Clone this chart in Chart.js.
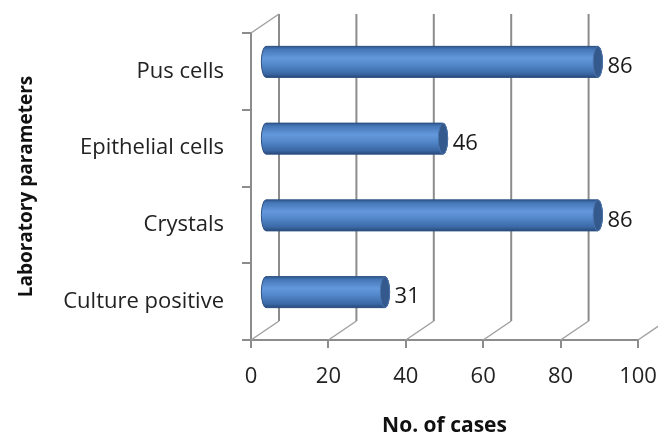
<!DOCTYPE html>
<html>
<head>
<meta charset="utf-8">
<script src="https://cdn.jsdelivr.net/npm/chart.js@4.4.0/dist/chart.umd.min.js"></script>
<style>
  html, body { margin: 0; padding: 0; background: #fff; }
  #wrap { width: 658px; height: 437px; }
</style>
</head>
<body>
<div id="wrap"><canvas id="barChart"></canvas></div>
<script>
'use strict';

// Chart data
var categories = ['Pus cells', 'Epithelial cells', 'Crystals', 'Culture positive'];
var cases = [86, 46, 86, 31];
var xTicks = [0, 20, 40, 60, 80, 100];

// Look
var axisGrey = '#8c8c8c';
var depthX = 28, depthY = -19;   // offset of the back wall
var fontFamily = '"Open Sans", sans-serif';

// back wall, floor lines and left wall edge (drawn behind the bars)
var wallPlugin = {
    id: 'wall3d',
    beforeDatasetsDraw: function (chart) {
        var ctx = chart.ctx;
        var area = chart.chartArea;
        var xs = chart.scales.x;
        ctx.save();
        ctx.lineCap = 'butt';
        xTicks.forEach(function (v) {
            var fx = xs.getPixelForValue(v);
            var bx = fx + depthX;
            // back wall grid line
            ctx.strokeStyle = axisGrey;
            ctx.lineWidth = 2;
            ctx.beginPath();
            ctx.moveTo(bx, area.top + depthY);
            ctx.lineTo(bx, area.bottom + depthY);
            ctx.stroke();
            // floor line
            ctx.strokeStyle = '#a0a0a0';
            ctx.lineWidth = 1.5;
            ctx.beginPath();
            ctx.moveTo(fx, area.bottom);
            ctx.lineTo(bx, area.bottom + depthY);
            ctx.stroke();
        });
        // top edge of the left wall
        ctx.strokeStyle = '#a0a0a0';
        ctx.lineWidth = 1.5;
        ctx.beginPath();
        ctx.moveTo(area.left, area.top);
        ctx.lineTo(area.left + depthX, area.top + depthY);
        ctx.stroke();
        ctx.restore();
    }
};

// cylinders + value labels
var cylinderPlugin = {
    id: 'cylinders',
    afterDatasetsDraw: function (chart) {
        var ctx = chart.ctx;
        var meta = chart.getDatasetMeta(0);
        var dx = depthX / 2, dy = depthY / 2;
        ctx.save();
        meta.data.forEach(function (bar, i) {
            var p = bar.getProps(['x', 'y', 'base', 'height'], true);
            var x0 = p.base + dx, x1 = p.x + dx;
            var cy = p.y + dy;
            var ry = p.height / 2, rx = ry * 0.3;
            var top = cy - ry, bottom = cy + ry;

            var grad = ctx.createLinearGradient(0, top, 0, bottom);
            grad.addColorStop(0, '#2f5a93');
            grad.addColorStop(0.1, '#4677b8');
            grad.addColorStop(0.38, '#6399dc');
            grad.addColorStop(0.6, '#5287ca');
            grad.addColorStop(0.88, '#3b68a5');
            grad.addColorStop(1, '#284a7b');

            ctx.beginPath();
            ctx.moveTo(x0, top);
            ctx.lineTo(x1, top);
            ctx.ellipse(x1, cy, rx, ry, 0, -Math.PI / 2, Math.PI / 2);
            ctx.lineTo(x0, bottom);
            ctx.ellipse(x0, cy, rx, ry, 0, Math.PI / 2, Math.PI * 1.5);
            ctx.closePath();
            ctx.fillStyle = grad;
            ctx.fill();
            ctx.strokeStyle = '#2d5082';
            ctx.lineWidth = 1;
            ctx.stroke();

            // end face
            ctx.beginPath();
            ctx.ellipse(x1, cy, rx, ry, 0, 0, Math.PI * 2);
            ctx.fillStyle = '#34598c';
            ctx.fill();
            ctx.strokeStyle = '#4a73aa';
            ctx.stroke();

            ctx.font = '22px ' + fontFamily;
            ctx.fillStyle = '#1a1a1a';
            ctx.textAlign = 'left';
            ctx.textBaseline = 'middle';
            ctx.fillText(String(cases[i]), x1 + rx + 5, cy + 5);
        });
        ctx.restore();
    }
};

var chart = new Chart(document.getElementById('barChart'), {
    type: 'bar',
    data: {
        labels: categories,
        datasets: [{
            data: cases,
            backgroundColor: 'rgba(0,0,0,0)',
            borderWidth: 0,
            categoryPercentage: 1,
            barPercentage: 0.404
        }]
    },
    options: {
        indexAxis: 'y',
        responsive: true,
        maintainAspectRatio: false,
        animation: false,
        layout: { padding: { top: 33, right: 20, left: 0, bottom: 0 } },
        plugins: {
            legend: { display: false },
            tooltip: { enabled: false }
        },
        scales: {
            x: {
                min: 0,
                max: 100,
                afterFit: function (s) {
                    s.height = 97;
                    s.paddingLeft = 0;
                    s.paddingRight = 0;
                },
                afterBuildTicks: function (s) {
                    s.ticks = xTicks.map(function (v) { return { value: v }; });
                },
                grid: {
                    drawOnChartArea: false,
                    drawTicks: true,
                    tickLength: 8,
                    color: axisGrey,
                    lineWidth: 2
                },
                border: { display: true, color: axisGrey, width: 2 },
                ticks: {
                    color: '#222',
                    padding: 16,
                    font: { family: fontFamily, size: 22 }
                },
                title: {
                    display: true,
                    text: 'No. of cases',
                    color: '#111',
                    padding: { top: 0, bottom: 0 },
                    font: { family: fontFamily, size: 21, weight: 'bold', lineHeight: 1 }
                }
            },
            y: {
                afterFit: function (s) {
                    s.width = 251;
                    s.paddingTop = 0;
                    s.paddingBottom = 0;
                },
                grid: {
                    drawOnChartArea: false,
                    drawTicks: true,
                    offset: true,
                    tickLength: 9,
                    color: axisGrey,
                    lineWidth: 2
                },
                border: { display: true, color: axisGrey, width: 2 },
                ticks: {
                    color: '#222',
                    padding: 18,
                    font: { family: fontFamily, size: 22 }
                },
                title: {
                    display: true,
                    text: 'Laboratory parameters',
                    color: '#111',
                    padding: { top: 15, bottom: 0 },
                    font: { family: fontFamily, size: 19, weight: 'bold' }
                }
            }
        }
    },
    plugins: [wallPlugin, cylinderPlugin]
});
</script>
</body>
</html>
